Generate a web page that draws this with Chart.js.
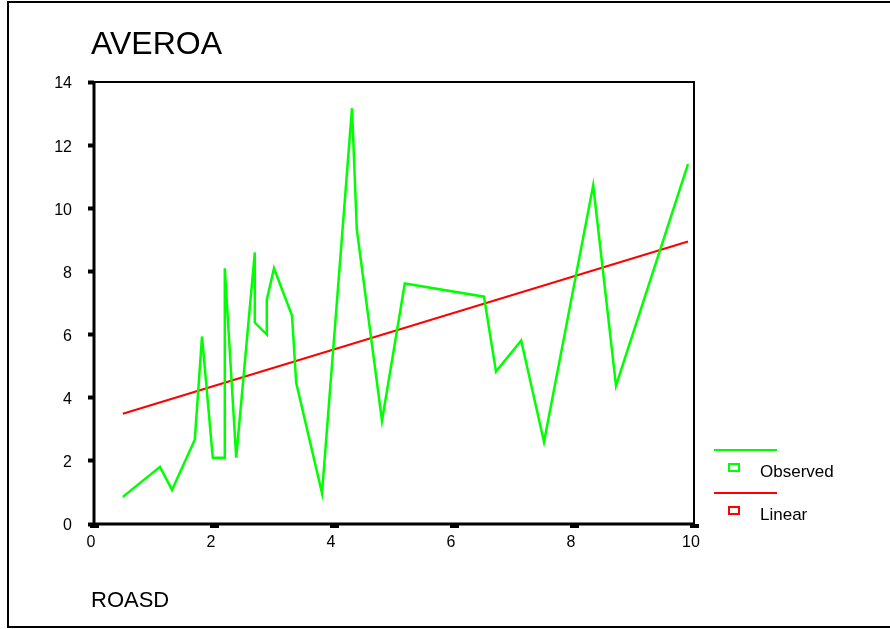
<!DOCTYPE html>
<html>
<head>
<meta charset="utf-8">
<script src="https://cdn.jsdelivr.net/npm/chart.js@4.4.0/dist/chart.umd.min.js"></script>
<style>
  html, body { margin: 0; padding: 0; background: #fff; }
  #wrap { position: relative; width: 890px; height: 629px; }
</style>
</head>
<body>
<div id="wrap"><canvas id="curveFit" width="890" height="629"></canvas></div>
<script>
// values
const observedX = [0.48, 1.1, 1.3, 1.68, 1.8, 1.98, 2.18, 2.18, 2.37, 2.68, 2.68, 2.88, 2.88, 3.0,
                   3.3, 3.37, 3.8, 4.3, 4.38, 4.8, 5.18, 6.5, 6.7, 7.12, 7.5, 8.32, 8.7, 9.9];
const observedY = [0.86, 1.81, 1.08, 2.67, 5.94, 2.1, 2.1, 8.1, 2.1, 8.6, 6.38, 6.0, 7.1, 8.1,
                   6.6, 4.47, 0.98, 13.17, 9.33, 3.27, 7.62, 7.2, 4.83, 5.81, 2.6, 10.73, 4.38, 11.4];
const linearX = [0.48, 9.9];
const linearY = [3.49, 8.95];
const xTicks = [0, 2, 4, 6, 8, 10];
const yTicks = [0, 2, 4, 6, 8, 10, 12, 14];
const seriesNames = ['Observed', 'Linear'];
const seriesColors = ['#00ff00', '#ff0000'];

function toPoints(xs, ys) {
    return xs.map((x, i) => ({ x: x, y: ys[i] }));
}

// box, frame, titles and legend in the SPSS style
const spssDecor = {
    id: 'spssDecor',
    afterDraw(chart) {
        const ctx = chart.ctx;
        const a = chart.chartArea;
        ctx.save();

        // outer frame (no right edge)
        ctx.strokeStyle = '#000';
        ctx.lineWidth = 2;
        ctx.beginPath();
        ctx.moveTo(892, 2);
        ctx.lineTo(8, 2);
        ctx.lineTo(8, 627);
        ctx.lineTo(892, 627);
        ctx.stroke();

        // plot box
        ctx.strokeRect(a.left, a.top, a.right - a.left, a.bottom - a.top);
        ctx.lineWidth = 3;
        ctx.beginPath();
        ctx.moveTo(a.left, a.top);
        ctx.lineTo(a.left, a.bottom);
        ctx.lineTo(a.right, a.bottom);
        ctx.stroke();

        ctx.fillStyle = '#000';
        ctx.textBaseline = 'alphabetic';
        ctx.font = '32px "Liberation Sans", Arial, sans-serif';
        ctx.fillText('AVEROA', 91, 54);
        ctx.font = '22px "Liberation Sans", Arial, sans-serif';
        ctx.fillText('ROASD', 91, 607);

        // legend
        const rows = [450, 493];
        seriesNames.forEach((name, i) => {
            const y = rows[i];
            ctx.strokeStyle = seriesColors[i];
            ctx.lineWidth = 2;
            ctx.beginPath();
            ctx.moveTo(714, y);
            ctx.lineTo(777, y);
            ctx.stroke();
            ctx.strokeRect(729, y + 14, 10, 7);
            ctx.fillStyle = '#000';
            ctx.font = '17px "Liberation Sans", Arial, sans-serif';
            ctx.fillText(name, 760, y + 27);
        });
        ctx.restore();
    }
};

const ctx = document.getElementById('curveFit').getContext('2d');
new Chart(ctx, {
    type: 'scatter',
    data: {
        datasets: [{
            label: seriesNames[0],
            data: toPoints(observedX, observedY),
            showLine: true,
            borderColor: seriesColors[0],
            borderWidth: 2.5,
            pointRadius: 0,
            tension: 0
        }, {
            label: seriesNames[1],
            data: toPoints(linearX, linearY),
            showLine: true,
            borderColor: seriesColors[1],
            borderWidth: 2,
            pointRadius: 0,
            tension: 0
        }]
    },
    options: {
        responsive: false,
        animation: false,
        layout: { padding: { left: 0, right: 196, top: 82, bottom: 0 } },
        plugins: {
            legend: { display: false },
            title: { display: false },
            tooltip: { enabled: false }
        },
        scales: {
            x: {
                type: 'linear',
                min: 0,
                max: 10,
                afterFit(scale) { scale.height = 105; },
                afterBuildTicks(scale) { scale.ticks = xTicks.map(v => ({ value: v })); },
                border: { display: false },
                grid: {
                    drawOnChartArea: false,
                    drawTicks: true,
                    tickLength: 4,
                    tickWidth: 9,
                    tickColor: '#000'
                },
                ticks: {
                    color: '#000',
                    padding: 5,
                    labelOffset: -3,
                    maxRotation: 0,
                    font: { family: '"Liberation Sans", Arial, sans-serif', size: 16 }
                }
            },
            y: {
                type: 'linear',
                min: 0,
                max: 14,
                afterFit(scale) { scale.width = 94; },
                afterBuildTicks(scale) { scale.ticks = yTicks.map(v => ({ value: v })); },
                border: { display: false },
                grid: {
                    drawOnChartArea: false,
                    drawTicks: true,
                    tickLength: 6,
                    tickWidth: 4,
                    tickColor: '#000'
                },
                ticks: {
                    color: '#000',
                    padding: 16,
                    labelOffset: 2,
                    font: { family: '"Liberation Sans", Arial, sans-serif', size: 16 }
                }
            }
        }
    },
    plugins: [spssDecor]
});
</script>
</body>
</html>
